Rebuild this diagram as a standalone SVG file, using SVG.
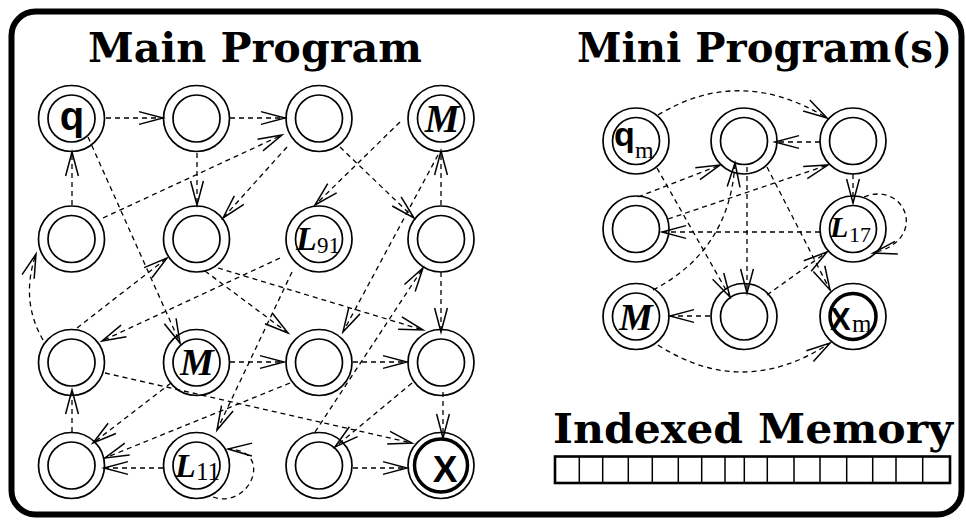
<svg xmlns="http://www.w3.org/2000/svg" width="966" height="521" viewBox="0 0 966 521">
  <style>
    .frame{fill:#fff;stroke:#000;stroke-width:6}
    .title{font-family:"DejaVu Serif","Liberation Serif",serif;font-weight:bold;font-size:41px;fill:#000}
    .ring{fill:none;stroke:#000;stroke-width:1.7}
    .final{fill:none;stroke:#000;stroke-width:3.5}
    .sans{font-family:"Liberation Sans",Arial,sans-serif;font-weight:bold;fill:#000}
    .it{font-family:"Liberation Serif","Times New Roman",serif;font-weight:bold;font-style:italic;fill:#000}
    .sub{font-family:"Liberation Serif","Times New Roman",serif;fill:#000}
    .edge{fill:none;stroke:#000;stroke-width:1.3;stroke-dasharray:5 4;marker-end:url(#arr)}
    .cell{fill:none;stroke:#000;stroke-width:1.5}
  </style>
  <defs>
    <marker id="arr" markerUnits="userSpaceOnUse" markerWidth="30" markerHeight="18" viewBox="-27 -9 30 18" refX="0" refY="0" orient="auto">
      <path d="M-24,-6.4 L0,0 L-24,6.4" fill="none" stroke="#000" stroke-width="1.5"/>
    </marker>
  </defs>

  <rect class="frame" x="11.5" y="11.5" width="950" height="503" rx="24"/>

  <text class="title" x="88" y="62" textLength="334" lengthAdjust="spacingAndGlyphs">Main Program</text>
  <text class="title" x="577" y="62" textLength="375" lengthAdjust="spacingAndGlyphs">Mini Program(s)</text>
  <text class="title" x="553" y="443" textLength="400" lengthAdjust="spacingAndGlyphs">Indexed Memory</text>

  <!-- main program states -->
  <g id="a1"><circle class="ring" cx="71.5" cy="118.5" r="33"/><circle class="ring" cx="71.5" cy="118.5" r="23.5"/><text class="sans" x="72" y="130" font-size="40" text-anchor="middle">q</text></g>
  <g id="a2"><circle class="ring" cx="196.5" cy="118.5" r="33"/><circle class="ring" cx="196.5" cy="118.5" r="23.5"/></g>
  <g id="a3"><circle class="ring" cx="319" cy="118.5" r="33"/><circle class="ring" cx="319" cy="118.5" r="23.5"/></g>
  <g id="a4"><circle class="ring" cx="441" cy="118.5" r="33"/><circle class="ring" cx="441" cy="118.5" r="23.5"/><text class="it" x="442" y="132" font-size="39" text-anchor="middle">M</text></g>

  <g id="b1"><circle class="ring" cx="71.5" cy="239" r="33"/><circle class="ring" cx="71.5" cy="239" r="23.5"/></g>
  <g id="b2"><circle class="ring" cx="196.5" cy="239" r="33"/><circle class="ring" cx="196.5" cy="239" r="23.5"/></g>
  <g id="b3"><circle class="ring" cx="319" cy="239" r="33"/><circle class="ring" cx="319" cy="239" r="23.5"/><text class="it" x="296" y="250" font-size="34">L</text><text class="sub" x="317" y="253" font-size="23">91</text></g>
  <g id="b4"><circle class="ring" cx="441" cy="239" r="33"/><circle class="ring" cx="441" cy="239" r="23.5"/></g>

  <g id="c1"><circle class="ring" cx="71.5" cy="362.5" r="33"/><circle class="ring" cx="71.5" cy="362.5" r="23.5"/></g>
  <g id="c2"><circle class="ring" cx="196.5" cy="362.5" r="33"/><circle class="ring" cx="196.5" cy="362.5" r="23.5"/><text class="it" x="197" y="375" font-size="38" text-anchor="middle">M</text></g>
  <g id="c3"><circle class="ring" cx="319" cy="362.5" r="33"/><circle class="ring" cx="319" cy="362.5" r="23.5"/></g>
  <g id="c4"><circle class="ring" cx="441" cy="362.5" r="33"/><circle class="ring" cx="441" cy="362.5" r="23.5"/></g>

  <g id="d1"><circle class="ring" cx="71.5" cy="465.5" r="33"/><circle class="ring" cx="71.5" cy="465.5" r="23.5"/></g>
  <g id="d2"><circle class="ring" cx="196.5" cy="465.5" r="33"/><circle class="ring" cx="196.5" cy="465.5" r="23.5"/><text class="it" x="175" y="477" font-size="34">L</text><text class="sub" x="196" y="480" font-size="25">11</text></g>
  <g id="d3"><circle class="ring" cx="319" cy="465.5" r="33"/><circle class="ring" cx="319" cy="465.5" r="23.5"/></g>
  <g id="d4"><circle class="ring" cx="441" cy="465.5" r="33"/><circle class="final" cx="441" cy="465.5" r="26.5"/><text class="sans" x="445" y="482" font-size="37" text-anchor="middle">X</text></g>

  <!-- mini program states -->
  <g id="m-q"><circle class="ring" cx="636" cy="141" r="33"/><circle class="ring" cx="636" cy="141" r="23.5"/><text class="sans" x="614" y="146" font-size="34">q</text><text class="sub" x="635" y="158" font-size="24">m</text></g>
  <g id="m-a"><circle class="ring" cx="744" cy="141" r="33"/><circle class="ring" cx="744" cy="141" r="23.5"/></g>
  <g id="m-b"><circle class="ring" cx="853" cy="141" r="33"/><circle class="ring" cx="853" cy="141" r="23.5"/></g>
  <g id="m-c"><circle class="ring" cx="636" cy="229" r="33"/><circle class="ring" cx="636" cy="229" r="23.5"/></g>
  <g id="m-l"><circle class="ring" cx="853" cy="229" r="33"/><circle class="ring" cx="853" cy="229" r="23.5"/><text class="it" x="830" y="237" font-size="30">L</text><text class="sub" x="849" y="242" font-size="22">17</text></g>
  <g id="m-m"><circle class="ring" cx="636" cy="316.5" r="33"/><circle class="ring" cx="636" cy="316.5" r="23.5"/><text class="it" x="636" y="330" font-size="38" text-anchor="middle">M</text></g>
  <g id="m-d"><circle class="ring" cx="744" cy="316.5" r="33"/><circle class="ring" cx="744" cy="316.5" r="23.5"/></g>
  <g id="m-x"><circle class="ring" cx="853" cy="316.5" r="33"/><circle class="final" cx="853" cy="316.5" r="23"/><text class="sans" x="830" y="330" font-size="31">X</text><text class="sub" x="852" y="332" font-size="25">m</text></g>

  <!-- transitions -->
  <g id="connectors">
    <path class="edge" d="M106,118 L163,118"/>
    <path class="edge" d="M230,118 L285,118"/>
    <path class="edge" d="M72,205 L72,152"/>
    <path class="edge" d="M197,153 L197,205"/>
    <path class="edge" d="M103,218 L282,135"/>
    <path class="edge" d="M287,147 L223,218"/>
    <path class="edge" d="M400,122 L315,205"/>
    <path class="edge" d="M340,147 L414,218"/>
    <path class="edge" d="M441,205 L441,151"/>
    <path class="edge" d="M88,137 L180,343"/>
    <path class="edge" d="M43,340 Q20,300 36,254"/>
    <path class="edge" d="M77,328 L167,258"/>
    <path class="edge" d="M280,258 L102,341"/>
    <path class="edge" d="M292,272 L217,430"/>
    <path class="edge" d="M205,271 L288,333"/>
    <path class="edge" d="M218,268 L423,330"/>
    <path class="edge" d="M438,155 L343,332"/>
    <path class="edge" d="M441,272 L441,332"/>
    <path class="edge" d="M315,432 L423,268"/>
    <path class="edge" d="M230,362 L284,362"/>
    <path class="edge" d="M353,362 L407,362"/>
    <path class="edge" d="M105,373 L412,443"/>
    <path class="edge" d="M72,432 L72,390"/>
    <path class="edge" d="M171,383 L93,443"/>
    <path class="edge" d="M290,383 L105,458"/>
    <path class="edge" d="M163,468 L104,468"/>
    <path class="edge" d="M213,497 C250,510 275,450 228,449"/>
    <path class="edge" d="M412,383 L335,447"/>
    <path class="edge" d="M443,392 L443,438"/>
    <path class="edge" d="M353,468 L407,468"/>

    <path class="edge" d="M658,115 Q740,65 827,118"/>
    <path class="edge" d="M820,142 L775,142"/>
    <path class="edge" d="M638,197 L720,165"/>
    <path class="edge" d="M668,219 L828,165"/>
    <path class="edge" d="M653,290 Q730,250 735,163"/>
    <path class="edge" d="M747,167 L747,293"/>
    <path class="edge" d="M767,167 L830,290"/>
    <path class="edge" d="M657,168 L730,297"/>
    <path class="edge" d="M820,232 L662,232"/>
    <path class="edge" d="M853,174 L853,203"/>
    <path class="edge" d="M864,197 C905,180 930,240 873,253"/>
    <path class="edge" d="M767,295 L827,252"/>
    <path class="edge" d="M710,316 L670,316"/>
    <path class="edge" d="M658,345 Q743,400 830,343"/>
  </g>

  <!-- memory tape -->
  <g id="memory">
    <rect x="555" y="456.5" width="395" height="26.5" fill="#fff" stroke="#000" stroke-width="2.6"/>
    <path class="cell" d="M579.3,456.5V483 M602.7,456.5V483 M628.3,456.5V483 M652.3,456.5V483 M678.3,456.5V483 M701.7,456.5V483 M725,456.5V483 M744.3,456.5V483 M767.3,456.5V483 M794,456.5V483 M820,456.5V483 M846.7,456.5V483 M872.7,456.5V483 M896,456.5V483 M922.7,456.5V483"/>
  </g>
</svg>
